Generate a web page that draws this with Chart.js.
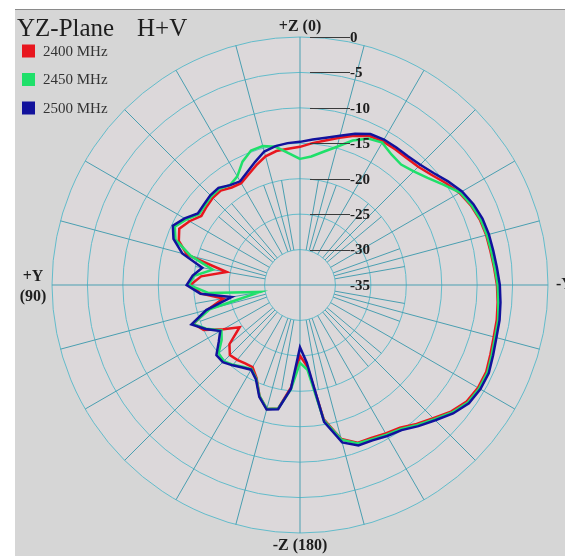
<!DOCTYPE html>
<html>
<head>
<meta charset="utf-8">
<script src="https://cdn.jsdelivr.net/npm/chart.js@4/dist/chart.umd.min.js"></script>
<style>
  html, body { margin: 0; padding: 0; background: #fff; }
  #wrap { width: 565px; height: 556px; }
</style>
</head>
<body>
<div id="wrap"><canvas id="myChart" width="565" height="556"></canvas></div>
<script>
// angle of each sample, degrees counter-clockwise from +Z (top), +Y is on the left
var angles = [0, 5, 10, 15, 20, 25, 30, 35, 40, 45, 50, 55, 60, 65, 70, 75, 80, 85,
              90, 95, 100, 105, 110, 115, 120, 125, 130, 135, 140, 145, 150, 155, 160, 165, 170, 175,
              180, 185, 190, 195, 200, 205, 210, 215, 220, 225, 230, 235, 240, 245, 250, 255, 260, 265,
              270, 275, 280, 285, 290, 295, 300, 305, 310, 315, 320, 325, 330, 335, 340, 345, 350, 355];

// gain in dB, one value per angle above
var gain2400 = [-15.5, -15.7, -15.8, -16.2, -17.0, -17.8, -18.4, -18.2, -17.6, -17.6,
                -17.8, -18.0, -17.0, -16.2, -16.8, -18.5, -24.5, -21.0, -19.5, -21.0,
                -24.0, -21.5, -19.0, -20.0, -22.5, -24.6, -22.0, -21.0, -21.2, -21.5,
                -21.6, -20.5, -18.3, -16.9, -17.3, -20.5, -25.0, -23.5, -15.8, -12.5,
                -11.3, -11.2, -10.8, -10.4, -9.4, -8.4, -7.2, -6.3, -6.0, -6.0,
                -6.4, -6.7, -6.8, -7.0, -7.2, -7.5, -7.7, -7.8, -8.0, -8.4,
                -9.0, -9.9, -10.8, -11.4, -11.6, -11.6, -11.6, -11.8, -12.6, -13.5,
                -14.3, -14.9];

var gain2450 = [-17.2, -16.3, -15.2, -14.7, -14.8, -15.8, -17.3, -17.8, -17.3, -17.3,
                -17.5, -17.6, -16.5, -15.5, -16.3, -19.0, -22.5, -20.0, -19.3, -22.0,
                -29.3, -21.8, -18.9, -20.4, -22.2, -21.5, -20.0, -19.8, -20.3, -20.9,
                -21.3, -20.4, -18.3, -16.9, -17.3, -20.2, -24.0, -23.0, -15.6, -12.4,
                -11.2, -11.0, -10.6, -10.2, -9.2, -8.2, -7.0, -6.1, -5.8, -5.8,
                -6.2, -6.5, -6.6, -6.9, -7.1, -7.4, -7.6, -7.7, -7.9, -8.3,
                -8.9, -10.3, -11.5, -12.3, -12.8, -12.5, -11.8, -12.2, -13.3, -14.8,
                -15.9, -16.8];

var gain2500 = [-14.8, -14.9, -15.1, -15.5, -16.5, -17.4, -18.1, -17.8, -17.1, -17.1,
                -17.3, -17.4, -16.2, -15.2, -16.0, -17.8, -21.0, -19.8, -19.0, -20.9,
                -25.2, -21.3, -18.7, -20.3, -22.0, -21.0, -19.6, -19.6, -20.2, -20.8,
                -21.2, -20.3, -18.2, -16.8, -17.2, -20.3, -26.2, -24.0, -15.4, -12.0,
                -10.9, -10.8, -10.4, -10.0, -9.0, -8.0, -6.8, -5.9, -5.6, -5.6,
                -6.0, -6.3, -6.4, -6.6, -6.8, -7.1, -7.3, -7.4, -7.6, -8.0,
                -8.6, -9.5, -10.4, -11.0, -11.3, -11.3, -11.3, -11.5, -12.3, -13.2,
                -13.9, -14.4];

var seriesNames = ['2400 MHz', '2450 MHz', '2500 MHz'];
var seriesColors = ['#e8161e', '#1fe06a', '#12129c'];
var tickValues = [0, -5, -10, -15, -20, -25, -30, -35];
var tickLabels = ['0', '-5', '-10', '-15', '-20', '-25', '-30', '-35'];
var axisLabels = [['+Z (0)'], ['+Y', '(90)'], ['-Z (180)'], ['-Y (270)']];

// radar goes clockwise from the top, the plot goes counter-clockwise
function clockwise(arr) {
    return arr.map(function(v, i) { return arr[(arr.length - i) % arr.length]; });
}

var gridRing = '#63bccb';
var gridSpoke = '#4a9fb1';

var polarDecor = {
    id: 'polarDecor',
    beforeDraw: function(chart) {
        var ctx = chart.ctx, s = chart.scales.r;
        ctx.save();
        ctx.fillStyle = '#ffffff';
        ctx.fillRect(0, 0, chart.width, chart.height);
        ctx.fillStyle = '#d6d6d6';
        ctx.fillRect(15, 10, chart.width - 15, chart.height - 10);
        ctx.strokeStyle = '#8a8a8a';
        ctx.lineWidth = 1;
        ctx.beginPath();
        ctx.moveTo(15, 9.5);
        ctx.lineTo(chart.width, 9.5);
        ctx.stroke();
        ctx.fillStyle = '#dcd8da';
        ctx.beginPath();
        ctx.arc(s.xCenter, s.yCenter, s.drawingArea, 0, Math.PI * 2);
        ctx.fill();
        ctx.restore();
    },
    beforeDatasetsDraw: function(chart) {
        var ctx = chart.ctx, s = chart.scales.r;
        var n = chart.data.labels.length;
        ctx.save();
        ctx.strokeStyle = gridSpoke;
        ctx.lineWidth = 1;
        for (var i = 0; i < n; i++) {
            if (i % 18 === 0) continue;
            var outer = null;
            if (i % 3 === 0) outer = 0;          // every 15 deg out to the rim
            else if (i % 2 === 0) outer = -20;   // every 10 deg in the inner band
            if (outer === null) continue;
            var a = s.getPointPositionForValue(i, -30);
            var b = s.getPointPositionForValue(i, outer);
            ctx.beginPath();
            ctx.moveTo(a.x, a.y);
            ctx.lineTo(b.x, b.y);
            ctx.stroke();
        }
        ctx.restore();
    },
    afterDraw: function(chart) {
        var ctx = chart.ctx, s = chart.scales.r;
        ctx.save();
        // title
        ctx.fillStyle = '#1e1e1e';
        ctx.textBaseline = 'alphabetic';
        ctx.font = '25px "Liberation Serif"';
        ctx.fillText('YZ-Plane', 17, 36);
        ctx.fillText('H+V', 137, 36);
        // legend
        ctx.font = '15px "Liberation Serif"';
        ctx.textBaseline = 'middle';
        for (var k = 0; k < seriesNames.length; k++) {
            var y = 51 + k * 28.5;
            ctx.fillStyle = seriesColors[k];
            ctx.fillRect(22, y - 6.5, 13, 13);
            ctx.fillStyle = '#333';
            ctx.fillText(seriesNames[k], 43, y + 1);
        }
        // ring values with leader lines
        ctx.font = 'bold 15px "Liberation Serif"';
        ctx.strokeStyle = '#3a3a3a';
        ctx.lineWidth = 1;
        for (var t = 0; t < tickValues.length; t++) {
            var ty = s.yCenter - s.getDistanceFromCenterForValue(tickValues[t]);
            if (t < tickValues.length - 1) {
                ctx.beginPath();
                ctx.moveTo(s.xCenter + 10, Math.round(ty) + 0.5);
                ctx.lineTo(s.xCenter + 50, Math.round(ty) + 0.5);
                ctx.stroke();
            }
            ctx.fillStyle = '#1e1e1e';
            ctx.textAlign = 'left';
            ctx.fillText(tickLabels[t], s.xCenter + 50, ty + 1);
        }
        // axis names
        ctx.font = 'bold 16px "Liberation Serif"';
        ctx.textAlign = 'center';
        ctx.fillText(axisLabels[0][0], s.xCenter, s.yCenter - s.drawingArea - 10);
        ctx.fillText(axisLabels[1][0], s.xCenter - s.drawingArea - 19, s.yCenter - 8);
        ctx.fillText(axisLabels[1][1], s.xCenter - s.drawingArea - 19, s.yCenter + 12);
        ctx.fillText(axisLabels[2][0], s.xCenter, s.yCenter + s.drawingArea + 13);
        ctx.textAlign = 'left';
        ctx.fillText(axisLabels[3][0], s.xCenter + s.drawingArea + 8, s.yCenter);
        ctx.restore();
    }
};

var ctx = document.getElementById('myChart');
var myChart = new Chart(ctx, {
    type: 'radar',
    data: {
        labels: clockwise(angles).map(String),
        datasets: [
            { label: seriesNames[2], data: clockwise(gain2500), borderColor: seriesColors[2] },
            { label: seriesNames[1], data: clockwise(gain2450), borderColor: seriesColors[1] },
            { label: seriesNames[0], data: clockwise(gain2400), borderColor: seriesColors[0] }
        ]
    },
    options: {
        responsive: false,
        animation: false,
        layout: { padding: { left: 52, right: 17, top: 37, bottom: 23 } },
        elements: {
            point: { radius: 0 },
            line: { borderWidth: 2.5, tension: 0, fill: false, backgroundColor: 'transparent' }
        },
        plugins: { legend: { display: false }, tooltip: { enabled: false } },
        scales: {
            r: {
                min: -35,
                max: 0,
                startAngle: 0,
                ticks: { display: false, stepSize: 5 },
                pointLabels: { display: false },
                grid: { circular: true, color: gridRing, lineWidth: 1 },
                angleLines: {
                    color: gridSpoke,
                    lineWidth: function(c) { return c.index % 18 === 0 ? 1 : 0; }
                }
            }
        }
    },
    plugins: [polarDecor]
});
</script>
</body>
</html>
